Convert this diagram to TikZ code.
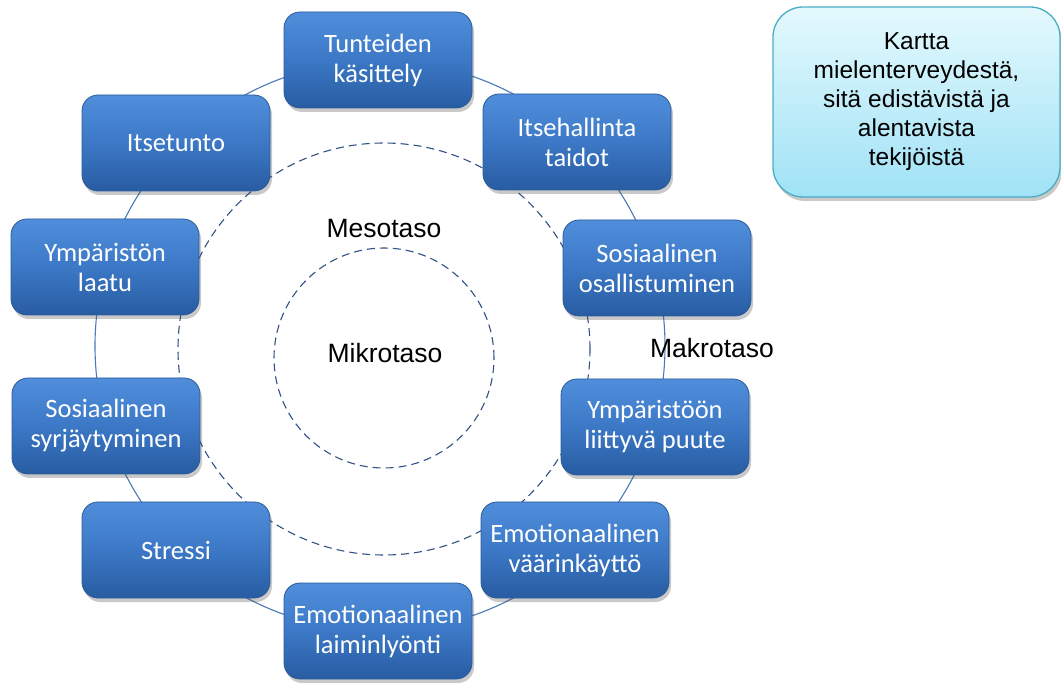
\documentclass[tikz,border=0pt]{standalone}
\usepackage{fontspec}
\setmainfont{Liberation Sans}
\newfontfamily\boxfont{Carlito}
\usetikzlibrary{shadows}
\definecolor{ringblue}{RGB}{74,122,182}
\definecolor{dashblue}{RGB}{48,82,132}
\definecolor{boxtop}{RGB}{80,142,220}
\definecolor{boxmid}{RGB}{60,120,198}
\definecolor{boxbot}{RGB}{40,92,162}
\definecolor{boxedge}{RGB}{42,90,152}
\definecolor{notetop}{RGB}{228,249,253}
\definecolor{notebot}{RGB}{160,226,246}
\definecolor{noteedge}{RGB}{75,172,198}
\begin{document}
\begin{tikzpicture}[x=1pt,y=-1pt,
  item/.style={rectangle, rounded corners=16pt, minimum width=188pt, minimum height=96pt,
    top color=boxtop, bottom color=boxbot, middle color=boxmid, draw=boxedge, line width=0.8pt,
    text=white, font=\boxfont\fontsize{26.5}{30}\selectfont, align=center, inner sep=2pt,
    drop shadow={shadow xshift=2pt, shadow yshift=-4pt, opacity=0.3, fill=black!70}},
  note/.style={rectangle, rounded corners=30pt, minimum width=287pt, minimum height=190pt,
    top color=notetop, bottom color=notebot, draw=noteedge, line width=1.3pt,
    text=black, font=\fontsize{24.5}{29}\selectfont, align=center,
    drop shadow={shadow xshift=2pt, shadow yshift=-4pt, opacity=0.3, fill=black!70}},
  ring/.style={circle, draw=ringblue, line width=1.1pt, inner sep=0pt},
  dring/.style={circle, draw=dashblue, line width=1.1pt, inner sep=0pt, dash pattern=on 8pt off 5pt},
  lbl/.style={font=\fontsize{26.5}{30}\selectfont, text=black, inner sep=0pt}
]
\useasboundingbox (0,0) rectangle (1061,684);
% circles
\node[ring, minimum size=570pt] (outer) at (380,346) {};
\node[dring, minimum size=412pt] (meso) at (384,349) {};
\node[dring, minimum size=220pt] (mikro) at (384,358) {};
% boxes
\node[item] (t1) at (378,60) {Tunteiden\\käsittely};
\node[item] (t2) at (577,142) {Itsehallinta\\taidot};
\node[item] (t3) at (657,268) {Sosiaalinen\\osallistuminen};
\node[item] (t4) at (655,427) {Ympäristöön\\liittyvä puute};
\node[item] (t5) at (575,550) {Emotionaalinen\\väärinkäyttö};
\node[item] (t6) at (378,631) {Emotionaalinen\\laiminlyönti};
\node[item] (t7) at (176,550) {Stressi};
\node[item] (t8) at (106,426) {Sosiaalinen\\syrjäytyminen};
\node[item] (t9) at (105,267) {Ympäristön\\laatu};
\node[item] (t10) at (176,143) {Itsetunto};
% note
\node[note] (kartta) at (916.5,102) {Kartta\\mielenterveydestä,\\sitä edistävistä ja\\alentavista\\tekijöistä};
% labels
\node[lbl] (lmeso) at (384,229) {Mesotaso};
\node[lbl] (lmikro) at (385,353) {Mikrotaso};
\node[lbl] (lmakro) at (712,348) {Makrotaso};
\end{tikzpicture}
\end{document}
